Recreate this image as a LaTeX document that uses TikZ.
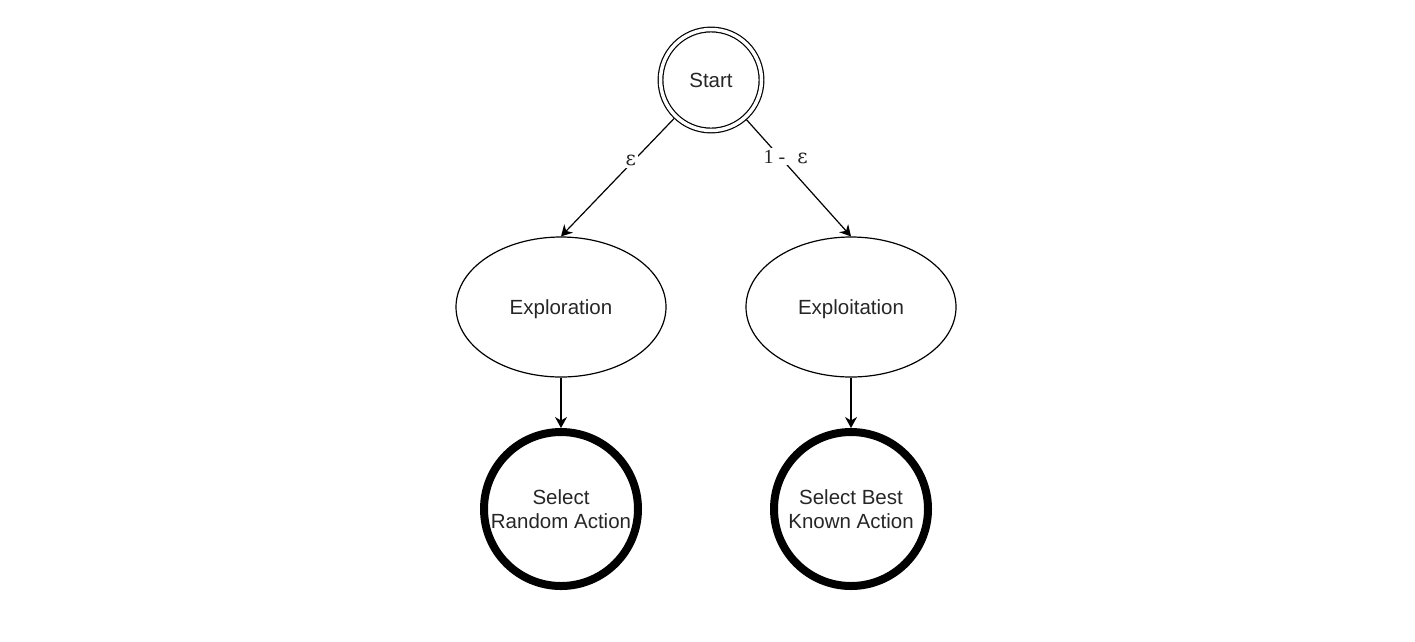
\documentclass[tikz,border=0pt]{standalone}
\usepackage{fontspec}
\setmainfont{Liberation Sans}
\newfontfamily\labelserif{Liberation Serif}
\newfontfamily\epsfont{DejaVu Serif}
\usetikzlibrary{shapes.geometric,arrows.meta}
\begin{document}
\begin{tikzpicture}[x=1pt,y=-1pt,
  every node/.style={font=\fontsize{20.5}{24}\selectfont, text=black!85},
  startnode/.style={circle, draw, line width=1.2pt, double, double distance=3.5pt, minimum size=101pt, inner sep=0pt, outer sep=2.4pt, text depth=0pt},
  phase/.style={ellipse, draw, line width=1.2pt, minimum width=210pt, minimum height=140pt, inner sep=0pt, text depth=0pt},
  actionnode/.style={circle, draw, line width=8pt, minimum size=154pt, inner sep=0pt, align=center},
  conn/.style={draw, line width=1.2pt, -{Stealth[length=11pt,width=12pt,inset=3.5pt]}},
  elabel/.style={fill=white, inner sep=2pt, font=\labelserif\fontsize{20}{24}\selectfont},
  epsstyle/.style={}
]
\useasboundingbox (0,0) rectangle (1415,641);
\node[startnode] (start) at (711,80) {Start};
\node[phase] (explor) at (561,307) {Exploration};
\node[phase] (exploit) at (851,307) {Exploitation};
\node[actionnode] (rand) at (561,509) {Select\\Random Action};
\node[actionnode] (best) at (851,509) {Select Best\\Known Action};
\draw[conn] (start) -- node[elabel, pos=0.34, xshift=-5pt, yshift=-2pt] {\epsfont\fontsize{20}{24}\selectfont ε} (explor.north);
\draw[conn] (start) -- node[elabel, pos=0.31, xshift=7pt, yshift=-1pt] {1 -\hspace{0.6em}{\epsfont\fontsize{20}{24}\selectfont ε}} (exploit.north);
\draw[conn] (explor) -- (rand);
\draw[conn] (exploit) -- (best);
\end{tikzpicture}
\end{document}
